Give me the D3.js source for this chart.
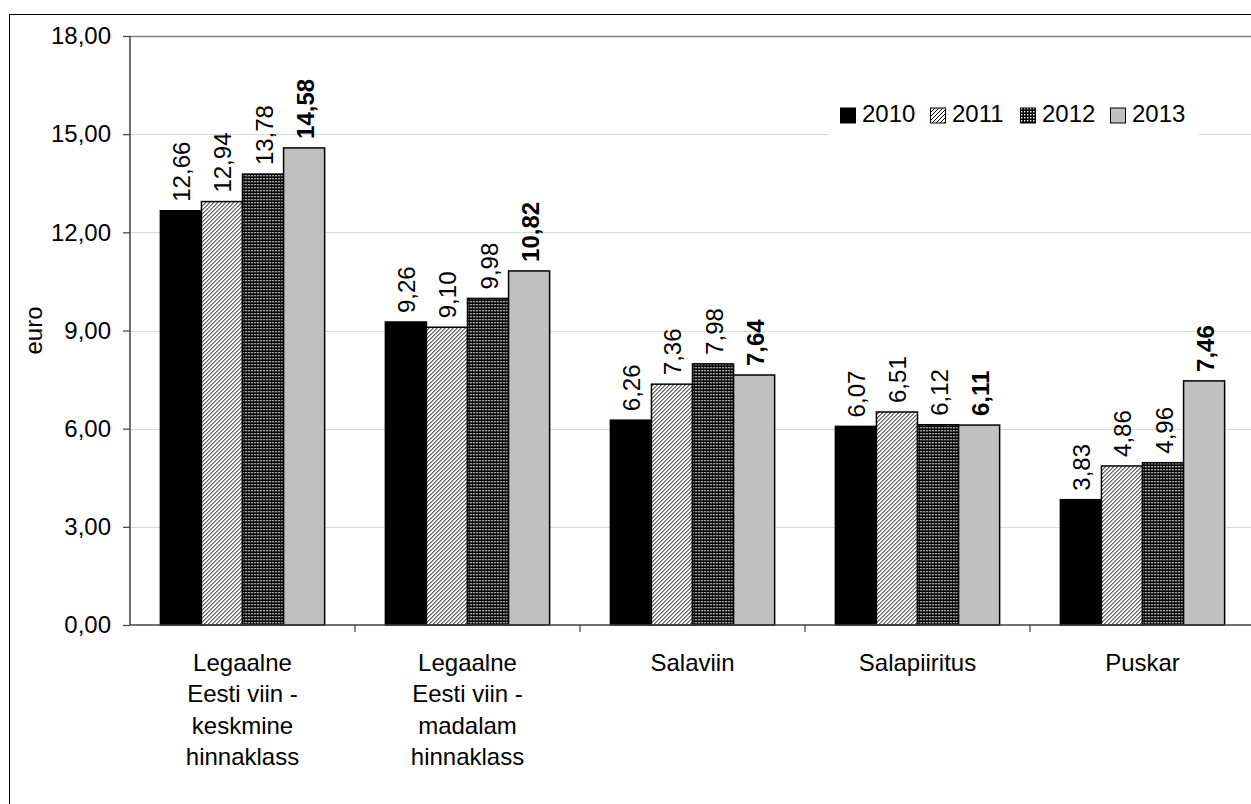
<!DOCTYPE html>
<html lang="et">
<head>
    <meta charset="UTF-8">
    <title>Viina hinnad 2010-2013</title>
    <script src="https://d3js.org/d3.v7.min.js"></script>
    <style>
        body { margin: 0; background: white; }
        text { font-family: 'Liberation Sans', Arial, sans-serif; fill: #000; }
    </style>
</head>
<body>
<svg id="chart" width="1251" height="804"></svg>
<script>
    // Data
    const categories = [
        ["Legaalne", "Eesti viin -", "keskmine", "hinnaklass"],
        ["Legaalne", "Eesti viin -", "madalam", "hinnaklass"],
        ["Salaviin"],
        ["Salapiiritus"],
        ["Puskar"]
    ];
    const years = ["2010", "2011", "2012", "2013"];
    const values2010 = [12.66, 9.26, 6.26, 6.07, 3.83];
    const values2011 = [12.94, 9.10, 7.36, 6.51, 4.86];
    const values2012 = [13.78, 9.98, 7.98, 6.12, 4.96];
    const values2013 = [14.58, 10.82, 7.64, 6.11, 7.46];
    const yTicks = [0, 3, 6, 9, 12, 15, 18];
    const yLabel = "euro";

    const series = [values2010, values2011, values2012, values2013];

    const width = 1251, height = 804;
    const margin = {left: 130, top: 36, right: -4, bottom: 179};
    const fs = "24px";
    const svg = d3.select("#chart");

    const fmt = d3.formatLocale({decimal: ",", thousands: " ", grouping: [3], currency: ["", "€"]}).format(".2f");

    // patterns
    const defs = svg.append("defs");
    const hatch = defs.append("pattern").attr("id", "hatch")
        .attr("patternUnits", "userSpaceOnUse").attr("width", 4).attr("height", 4);
    hatch.append("rect").attr("width", 4).attr("height", 4).attr("fill", "white");
    hatch.append("path").attr("d", "M-1,1 l2,-2 M0,4 l4,-4 M3,5 l2,-2")
        .attr("stroke", "black").attr("stroke-width", 1);

    const dots = defs.append("pattern").attr("id", "dots")
        .attr("patternUnits", "userSpaceOnUse").attr("width", 3).attr("height", 3);
    dots.append("rect").attr("width", 3).attr("height", 3).attr("fill", "black");
    dots.append("rect").attr("x", 1).attr("y", 1).attr("width", 1.4).attr("height", 1.4).attr("fill", "white");

    const fills = ["#000000", "url(#hatch)", "url(#dots)", "#c0c0c0"];

    svg.append("rect").attr("width", width).attr("height", height).attr("fill", "white");
    // outer frame
    svg.append("rect")
        .attr("x", 9.5).attr("y", 14.5).attr("width", 1400).attr("height", 900)
        .attr("fill", "none").attr("stroke", "#000").attr("stroke-width", 1);

    const x0 = d3.scaleBand().domain(d3.range(categories.length))
        .range([margin.left, width - margin.right]).paddingInner(0.27).paddingOuter(0.135);
    const xEdges = d3.scaleBand().domain(d3.range(categories.length))
        .range([margin.left, width - margin.right]);
    const x1 = d3.scaleBand().domain(d3.range(years.length)).range([0, x0.bandwidth()]);
    const y = d3.scaleLinear().domain([0, 18]).range([height - margin.bottom, margin.top]);

    // gridlines
    svg.append("g").selectAll("line").data(yTicks.slice(1)).join("line")
        .attr("x1", margin.left).attr("x2", width + 10)
        .attr("y1", d => Math.round(y(d)) + 0.5).attr("y2", d => Math.round(y(d)) + 0.5)
        .attr("stroke", d => d === 18 ? "#808080" : "#d9d9d9").attr("stroke-width", d => d === 18 ? 1.5 : 1.2);

    // bars
    const groups = svg.append("g").selectAll("g").data(categories).join("g")
        .attr("transform", (d, i) => `translate(${x0(i)},0)`);

    groups.selectAll("rect").data((d, i) => series.map((s, j) => ({j, v: s[i]}))).join("rect")
        .attr("x", d => x1(d.j))
        .attr("y", d => y(d.v))
        .attr("width", x1.bandwidth())
        .attr("height", d => y(0) - y(d.v))
        .attr("fill", d => fills[d.j])
        .attr("stroke", "#000").attr("stroke-width", 1.5);

    groups.selectAll("text").data((d, i) => series.map((s, j) => ({j, v: s[i]}))).join("text")
        .attr("transform", d => `translate(${x1(d.j) + x1.bandwidth() / 2 + 1},${y(d.v) - 9}) rotate(-90)`)
        .attr("dominant-baseline", "central")
        .style("font-size", fs)
        .style("font-weight", d => d.j === 3 ? "bold" : "normal")
        .text(d => fmt(d.v));

    // y axis
    const yAxis = svg.append("g").attr("transform", `translate(${margin.left},0)`)
        .call(d3.axisLeft(y).tickValues(yTicks).tickFormat(fmt).tickSize(7).tickPadding(12));
    yAxis.select(".domain").attr("stroke", "#404040").attr("stroke-width", 1.5).attr("d", `M0,${y(0)}V${y(18)}`);
    yAxis.selectAll(".tick line").attr("stroke", "#404040").attr("stroke-width", 1.2);
    yAxis.selectAll(".tick text").style("font-size", fs).attr("font-family", null).attr("fill", "#000");

    // x axis
    svg.append("line")
        .attr("x1", margin.left).attr("x2", width + 10)
        .attr("y1", y(0)).attr("y2", y(0))
        .attr("stroke", "#404040").attr("stroke-width", 1.5);
    svg.append("g").selectAll("line").data(d3.range(categories.length)).join("line")
        .attr("x1", i => xEdges(i) + xEdges.bandwidth()).attr("x2", i => xEdges(i) + xEdges.bandwidth())
        .attr("y1", y(0)).attr("y2", y(0) + 7)
        .attr("stroke", "#404040").attr("stroke-width", 1.2);

    const catLabels = svg.append("g").selectAll("text").data(categories).join("text")
        .attr("text-anchor", "middle")
        .style("font-size", fs);
    catLabels.selectAll("tspan").data((d, i) => d.map(t => ({t, i}))).join("tspan")
        .attr("x", d => x0(d.i) + x0.bandwidth() / 2)
        .attr("y", (d, k) => y(0) + 46 + k * 31.3)
        .text(d => d.t);

    // y title
    svg.append("text")
        .attr("transform", `translate(33,${(y(0) + y(18)) / 2}) rotate(-90)`)
        .attr("text-anchor", "middle").attr("dominant-baseline", "central")
        .style("font-size", fs)
        .text(yLabel);

    // legend
    const legend = svg.append("g");
    legend.append("rect").attr("x", 829).attr("y", 96).attr("width", 370).attr("height", 58).attr("fill", "white");
    const items = legend.selectAll("g").data(years).join("g")
        .attr("transform", (d, i) => `translate(${840 + i * 90},113)`);
    items.append("rect").attr("x", 0.5).attr("y", -5).attr("width", 15).attr("height", 15)
        .attr("fill", (d, i) => fills[i]).attr("stroke", "#000").attr("stroke-width", 1);
    items.append("text").attr("x", 22).attr("dominant-baseline", "central")
        .style("font-size", fs).text(d => d);
</script>
</body>
</html>
